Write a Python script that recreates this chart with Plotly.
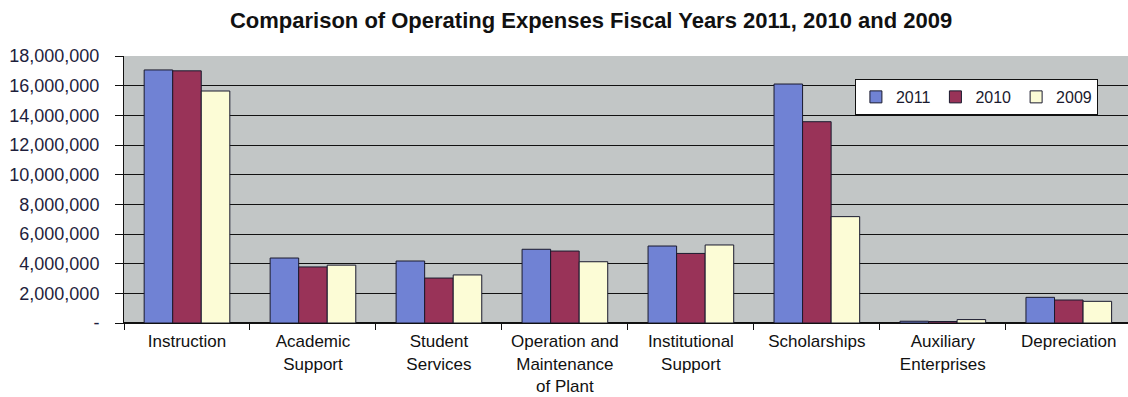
import plotly.graph_objects as go

categories = ["Instruction", "Academic<br>Support", "Student<br>Services",
              "Operation and<br>Maintenance<br>of Plant", "Institutional<br>Support",
              "Scholarships", "Auxiliary<br>Enterprises", "Depreciation"]
y2011 = [17060000, 4380000, 4180000, 4970000, 5190000, 16110000, 120000, 1730000]
y2010 = [17000000, 3780000, 3030000, 4850000, 4690000, 13570000, 100000, 1550000]
y2009 = [15640000, 3900000, 3240000, 4130000, 5260000, 7170000, 230000, 1460000]

tick_vals = [0, 2000000, 4000000, 6000000, 8000000, 10000000, 12000000, 14000000, 16000000, 18000000]
tick_text = ["-", "2,000,000", "4,000,000", "6,000,000", "8,000,000", "10,000,000",
             "12,000,000", "14,000,000", "16,000,000", "18,000,000"]

series = [("2011", y2011, "#7082d4"), ("2010", y2010, "#993358"), ("2009", y2009, "#fcfcd6")]

fig = go.Figure()
for name, vals, col in series:
    fig.add_trace(go.Bar(x=categories, y=vals, name=name, marker_color=col,
                         marker_line=dict(color="#1a1a2e", width=1)))

fig.update_layout(
    width=1128, height=397,
    margin=dict(l=124, r=0, t=56, b=74),
    paper_bgcolor="white", plot_bgcolor="#c2c6c6",
    barmode="group", bargap=0.32, bargroupgap=0,
    font=dict(family="Liberation Sans, Arial", color="#1a1a2e"),
    title=dict(text="<b>Comparison of Operating Expenses Fiscal Years 2011, 2010 and 2009</b>",
               x=0.524, xanchor="center", y=0.95, yanchor="middle",
               font=dict(size=22, color="#111111", family="Liberation Sans, Arial")),
    legend=dict(orientation="h", x=0.728, xanchor="left", y=0.914, yanchor="top",
                bgcolor="white", bordercolor="#111111", borderwidth=1,
                font=dict(size=16, color="#1a1a2e"),
                itemwidth=30, traceorder="normal"),
    showlegend=True,
)
fig.update_xaxes(type="category", tickson="boundaries", ticks="outside", ticklen=6,
                 tickcolor="#111111", showline=True, linecolor="#111111",
                 tickangle=0, ticklabelstandoff=3,
                 tickfont=dict(size=17, family="Liberation Sans, Arial", color="#111111"),
                 range=[-0.5, 7.47])
fig.update_yaxes(range=[0, 18000000], tickvals=tick_vals, ticktext=tick_text,
                 ticks="outside", ticklen=8, tickcolor="#111111",
                 showgrid=True, gridcolor="#111111", gridwidth=1.3,
                 showline=True, linecolor="#111111", zeroline=True, zerolinecolor="#111111",
                 ticklabelstandoff=12,
                 tickfont=dict(size=18, color="#1e1e3c", family="Liberation Sans, Arial"))

fig.write_html("out.html")
